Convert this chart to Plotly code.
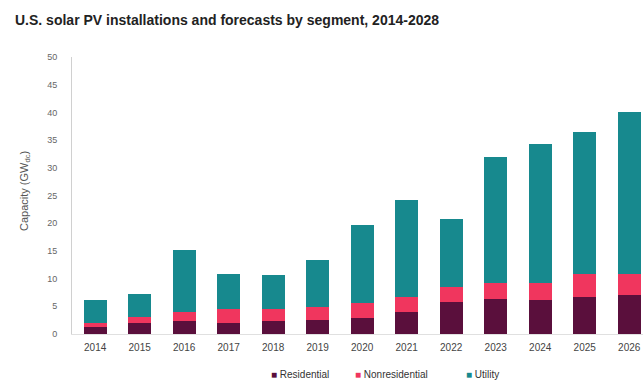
import plotly.graph_objects as go

# U.S. solar PV installations by segment (GWdc)
years = ["2014", "2015", "2016", "2017", "2018", "2019", "2020",
         "2021", "2022", "2023", "2024", "2025", "2026"]
residential = [1.2, 2.0, 2.3, 2.0, 2.3, 2.6, 2.9, 4.0, 5.8, 6.3, 6.1, 6.7, 7.0]
nonresidential = [0.7, 1.1, 1.6, 2.6, 2.2, 2.3, 2.7, 2.7, 2.7, 2.9, 3.1, 4.2, 3.9]
utility = [4.2, 4.2, 11.2, 6.3, 6.1, 8.4, 14.1, 17.4, 12.3, 22.7, 25.1, 25.5, 29.1]
y_ticks = [0, 5, 10, 15, 20, 25, 30, 35, 40, 45, 50]
segments = ["Residential", "Nonresidential", "Utility"]

colors = {"Residential": "#5a0f3c", "Nonresidential": "#f0365e", "Utility": "#17898e"}

fig = go.Figure()
for name, vals in zip(segments, [residential, nonresidential, utility]):
    fig.add_trace(go.Bar(x=years, y=vals, name=name, showlegend=False,
                         marker=dict(color=colors[name], line=dict(width=0))))

W, H = 643, 381
L, R, T, B = 72, 0, 57, 47
plot_w = W - L - R
plot_h = H - T - B


def px_x(px):
    return (px - L) / plot_w


def px_y(py):
    return (T + plot_h - py) / plot_h


fig.update_layout(
    width=W, height=H,
    margin=dict(l=L, r=R, t=T, b=B, autoexpand=False),
    barmode="stack",
    bargap=0.48,
    plot_bgcolor="white",
    paper_bgcolor="white",
    font=dict(family="Liberation Sans, Arial, sans-serif", color="#555555", size=9),
    title=dict(
        text="<b>U.S. solar PV installations and forecasts by segment, 2014-2028</b>",
        x=15 / W, xanchor="left", xref="container",
        y=1 - 20 / H, yanchor="middle", yref="container",
        font=dict(size=14, color="#222222"),
    ),
    xaxis=dict(
        type="category",
        range=[-0.52, 12.31],
        showline=True, linecolor="#e0e0e0", linewidth=1,
        ticks="", showgrid=False,
        ticklabelstandoff=4,
        tickfont=dict(size=10, color="#444444"),
    ),
    yaxis=dict(
        range=[0, 50],
        tickvals=y_ticks,
        showline=True, linecolor="#d0d0d0", linewidth=1,
        showgrid=False, zeroline=False, ticks="",
        ticklabelstandoff=12,
        tickfont=dict(size=9, color="#666666"),
    ),
    showlegend=False,
)

# Compact legend row below the axis: small swatch followed by its label
legend_x = {"Residential": 269, "Nonresidential": 353, "Utility": 464}
for name in segments:
    fig.add_annotation(
        text=f"<span style='color:{colors[name]}'>■</span> {name}",
        xref="paper", yref="paper",
        x=px_x(legend_x[name]), y=px_y(374),
        xanchor="left", yanchor="middle", showarrow=False,
        font=dict(size=10, color="#333333"),
    )

fig.add_annotation(
    text="Capacity (GW<sub>dc</sub>)",
    xref="paper", yref="paper",
    x=px_x(25), y=px_y(191),
    textangle=-90, showarrow=False,
    font=dict(size=11, color="#555555"),
    xanchor="center", yanchor="middle",
)

fig.write_html("out.html")
